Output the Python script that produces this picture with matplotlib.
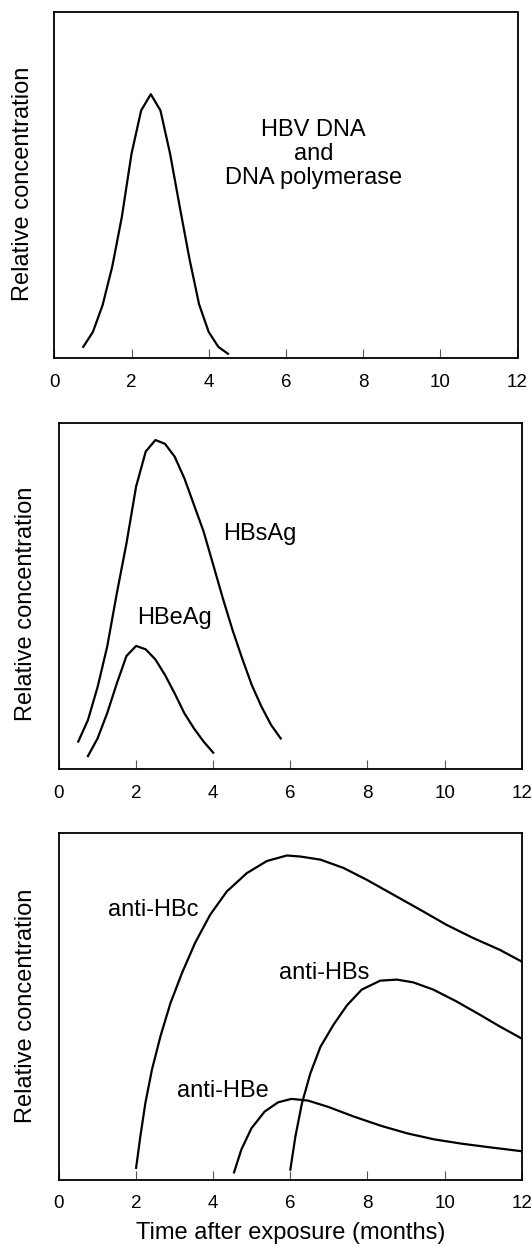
import matplotlib.pyplot as plt
import numpy as np

plt.rcParams['font.family'] = ['Liberation Sans', 'DejaVu Sans']

# panel 1: HBV DNA and DNA polymerase
dna_x = [0.75, 1.0, 1.25, 1.5, 1.75, 2.0, 2.25, 2.5, 2.75, 3.0, 3.25, 3.5, 3.75, 4.0, 4.25, 4.5]
dna_y = [0.033, 0.076, 0.153, 0.264, 0.408, 0.59, 0.715, 0.762, 0.715, 0.59, 0.437, 0.288, 0.156, 0.076, 0.033, 0.013]

# panel 2: antigens
hbsag_x = [0.5, 0.75, 1.0, 1.25, 1.5, 1.75, 2.0, 2.25, 2.5, 2.75, 3.0, 3.25, 3.5, 3.75,
           4.0, 4.25, 4.5, 4.75, 5.0, 5.25, 5.5, 5.75]
hbsag_y = [0.08, 0.142, 0.237, 0.354, 0.508, 0.652, 0.816, 0.917, 0.95, 0.939, 0.902, 0.84,
           0.763, 0.686, 0.59, 0.493, 0.402, 0.32, 0.243, 0.181, 0.128, 0.089]
hbeag_x = [0.75, 1.0, 1.25, 1.5, 1.75, 2.0, 2.25, 2.5, 2.75, 3.0, 3.25, 3.5, 3.75, 4.0]
hbeag_y = [0.038, 0.089, 0.162, 0.248, 0.327, 0.356, 0.346, 0.317, 0.272, 0.219, 0.162, 0.118, 0.08, 0.048]

# panel 3: antibodies
hbc_x = [2.0, 2.11, 2.24, 2.41, 2.63, 2.89, 3.19, 3.53, 3.92, 4.35, 4.87, 5.39, 5.91,
         6.26, 6.78, 7.38, 7.98, 8.67, 9.36, 10.05, 10.74, 11.43, 12.0]
hbc_y = [0.035, 0.126, 0.222, 0.318, 0.414, 0.51, 0.597, 0.684, 0.765, 0.832, 0.885, 0.92, 0.936,
         0.933, 0.924, 0.9, 0.866, 0.823, 0.78, 0.736, 0.698, 0.664, 0.63]
hbs_x = [6.0, 6.13, 6.3, 6.52, 6.78, 7.12, 7.47, 7.85, 8.33, 8.76, 9.19, 9.71, 10.31, 10.91, 11.43, 12.0]
hbs_y = [0.03, 0.125, 0.221, 0.308, 0.384, 0.448, 0.504, 0.549, 0.575, 0.578, 0.57, 0.549, 0.515, 0.477, 0.443, 0.408]
hbe_x = [4.54, 4.73, 4.99, 5.33, 5.68, 6.03, 6.46, 6.98, 7.67, 8.36, 9.05, 9.74, 10.43, 11.12, 12.0]
hbe_y = [0.022, 0.088, 0.149, 0.197, 0.224, 0.234, 0.229, 0.211, 0.182, 0.156, 0.134, 0.117, 0.105, 0.095, 0.083]

W, H = 532, 1249
fig = plt.figure(figsize=(W / 100, H / 100), dpi=100)

def make_ax(left, top, right, bottom, ylab_x, ylab_y):
    ax = fig.add_axes([left / W, 1 - bottom / H, (right - left) / W, (bottom - top) / H])
    ax.set_xlim(0, 12)
    ax.set_ylim(0, 1)
    ax.set_xticks(np.arange(0, 13, 2))
    ax.set_yticks([])
    ax.tick_params(axis='x', direction='in', length=6.5, width=0.8, color='#555555',
                   labelsize=13.5, pad=11)
    for s in ax.spines.values():
        s.set_linewidth(1.3)
    fig.text(ylab_x / W, 1 - ylab_y / H, 'Relative concentration', rotation=90,
             ha='center', va='center', fontsize=17)
    return ax

lw = 1.6
fs = 17

ax1 = make_ax(54.3, 11.7, 517.5, 358.3, 22.8, 183.5)
ax1.plot(dna_x, dna_y, color='black', lw=lw)
ax1.text(6.72, 0.59, 'HBV DNA\nand\nDNA polymerase', ha='center', va='center',
         fontsize=fs, linespacing=1.1)

ax2 = make_ax(59, 422.7, 521.7, 769.3, 26.5, 604)
ax2.plot(hbsag_x, hbsag_y, color='black', lw=lw)
ax2.plot(hbeag_x, hbeag_y, color='black', lw=lw)
ax2.text(5.21, 0.68, 'HBsAg', ha='center', va='center', fontsize=fs)
ax2.text(2.99, 0.436, 'HBeAg', ha='center', va='center', fontsize=fs)

ax3 = make_ax(59, 833.3, 521.7, 1180, 25.8, 1006)
ax3.plot(hbc_x, hbc_y, color='black', lw=lw)
ax3.plot(hbs_x, hbs_y, color='black', lw=lw)
ax3.plot(hbe_x, hbe_y, color='black', lw=lw)
ax3.text(2.45, 0.78, 'anti-HBc', ha='center', va='center', fontsize=fs)
ax3.text(6.89, 0.596, 'anti-HBs', ha='center', va='center', fontsize=fs)
ax3.text(4.25, 0.258, 'anti-HBe', ha='center', va='center', fontsize=fs)
ax3.set_xlabel('Time after exposure (months)', fontsize=fs, labelpad=7)

fig.savefig('out.png', dpi=100)
